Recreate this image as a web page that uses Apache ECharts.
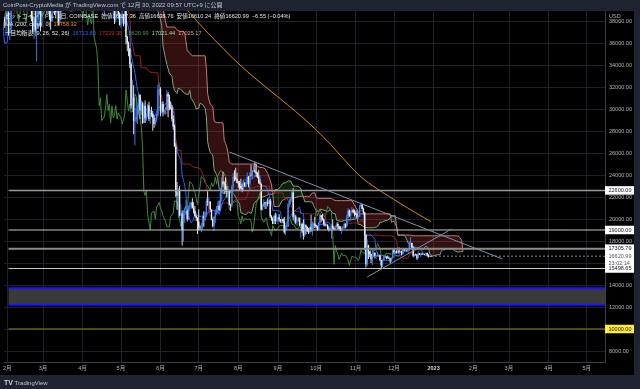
<!DOCTYPE html>
<html><head><meta charset="utf-8">
<script src="https://cdn.jsdelivr.net/npm/echarts@6/dist/echarts.min.js"></script>
<style>html,body{margin:0;padding:0;background:#1f2230;}#c{width:640px;height:389px;}</style>
</head><body><div id="c"></div><script>
// ---------- DATA (BTC/USD daily, Coinbase, 2022-01-01 .. 2022-12-30) ----------
const startDate = '2022-01-01';
const firstOpen = 46210;
const lastOpen = 16627.36;
const closes = [
47740,47300,46430,45830,43430,43080,41560,41740,41860,41830,42740,43920,42590,43100,43180,43110,42250,42370,41680,40700,36470,35070,36280,36680,36960,36830,37180,37720,38180,37920,38480,
38740,36900,37320,41570,41410,42410,43840,44080,44370,43530,42400,42200,42060,42550,44560,43890,40550,40000,40100,38400,37030,38250,37250,38330,39220,39120,37700,43190,
44420,43920,42450,39150,39400,38420,37990,38730,41940,39440,38800,38900,37800,39670,39280,41110,40920,41760,42200,41260,41000,42360,42890,43960,44350,44500,46820,47130,47460,47060,45540,
46280,45810,46400,46580,45500,43170,43440,42290,42780,42200,39520,40080,41150,39940,40550,40380,39680,40800,41500,41370,40480,39700,39450,39450,40430,38120,39240,39740,38600,37650,
38470,38530,37750,39690,36550,36020,35500,34060,30300,31020,28940,29050,29280,30100,31300,29860,30420,28720,30290,29200,29430,30320,29100,29650,29540,29200,28630,29030,29450,31730,31790,
29800,30450,29700,29860,29900,31370,31130,30200,30110,29090,28420,26570,22490,22140,22580,20380,20470,19000,20570,20570,20710,19990,21100,21230,21500,21030,20730,20280,20100,19780,
19300,19250,19300,20230,20190,20550,21640,21590,21590,20860,19970,19330,20210,20580,20830,21200,20790,22430,23400,23230,23160,22680,22450,22580,21300,21250,22950,23850,23780,23640,23300,
23270,22990,22820,22610,23310,22960,23180,23810,23160,23950,23940,24400,24440,24300,24100,23860,23340,23210,20830,21140,21520,21400,21530,21370,21680,20240,20040,19550,20290,19800,20050,
20130,19950,19830,20000,19800,18790,19290,19320,21360,21650,21830,22400,20170,20230,19700,19800,20110,19420,19540,18880,18490,19410,19300,18930,18800,19220,19080,19410,19590,19420,
19310,19060,19630,20340,20160,19960,19530,19420,19450,19130,19060,19150,19380,19180,19070,19260,19550,19330,19120,19040,19170,19200,19570,19330,20090,20770,20290,20600,20810,20630,20490,
20480,20150,20210,21150,21300,20900,20590,18540,15880,17590,17070,16810,16330,16620,16900,16660,16690,16700,16700,16280,15780,16230,16600,16600,16520,16460,16440,16220,16450,17170,
16980,17090,16890,17110,16970,17090,16840,17230,17130,17130,17100,17210,17780,17810,17360,16630,16780,16740,16440,16900,16820,16830,16780,16840,16830,16920,16700,16550,16627.36,16620.99
];
const highs = [
47940,47990,47570,47500,47070,43750,43150,42300,42800,42250,43100,44350,44300,43450,43800,43480,43200,42700,42620,43500,41100,36830,36500,37550,37540,38940,37240,37980,38700,38370,38740,
39260,38870,37390,41740,41950,42670,44500,45490,44790,45820,43920,43040,42750,42880,44760,44600,44180,40990,40460,40160,39470,38440,39280,39140,39730,40280,39870,43760,
44960,45400,44080,42500,39620,39650,39480,39380,42580,41940,40250,39480,39310,39910,39860,41700,41420,42300,42380,42300,41750,43350,43000,44200,45080,44790,46920,48200,48090,47700,47600,
46690,47200,47420,46880,47200,45520,43900,43950,42800,43420,42400,40680,41550,41500,40710,40640,40600,41080,41750,42190,42980,40800,39990,39930,40620,40790,39470,40370,39980,38790,
38660,39170,38650,39920,39860,36650,36140,35500,34250,32640,32170,30100,30980,30300,31430,31300,30790,30650,30540,30770,29600,30460,30650,29820,30200,29850,29380,29230,29550,32200,32390,
31970,30650,30680,29950,30150,31760,31550,31300,30680,30370,29440,28560,26880,23360,22800,22980,21350,20770,20800,21050,21720,20870,21200,21520,21580,21880,21520,21180,20420,20170,
20880,19420,19660,20330,20710,20680,21840,22530,21900,21600,20860,20040,20270,20880,21200,21580,21680,22770,23800,24280,23440,23770,22980,23000,22660,21380,23080,24200,24440,24670,24210,
23480,23460,23650,23210,23450,23350,23390,24230,23910,24220,24920,24460,24890,25210,25050,24250,24430,23600,23210,21380,21790,21540,21650,21860,22000,21820,20350,20150,20400,20560,20480,
20200,20440,20010,20000,20050,20180,19460,19460,21480,21790,21860,22490,22800,20540,20380,19900,20190,20110,19670,19650,19950,19500,19490,19310,19180,19310,20380,19790,19640,20180,
19480,19390,19710,20470,20360,20450,20060,19620,19560,19530,19270,19230,19520,19950,19230,19420,19680,19700,19350,19340,19250,19250,19690,19600,20400,21000,20860,20750,21080,20930,20840,
20690,20790,20390,21300,21480,21360,21050,20670,18587,18150,17650,17050,16870,17180,17100,16980,16740,17000,16800,16740,16290,16290,16700,16800,16600,16690,16600,16480,16530,17240,
17320,17110,17160,17200,17420,17110,17140,17300,17350,17230,17270,17240,18000,18387,17850,17530,16800,16860,16820,17060,16910,16870,16950,16880,16850,16940,16957,16790,16660,16638.76
];
const lows = [
46210,46650,45700,45520,42500,42450,40610,40500,41220,39650,41270,42460,42300,41750,42620,42600,41550,41260,41150,40600,35500,34020,34610,32950,35720,36260,35510,36200,37330,37380,36650,
38050,36650,36260,36960,40990,41130,41920,42690,43200,43220,42030,41780,41890,41570,42440,43330,40110,39450,39650,38000,36810,36340,37040,34330,38040,38600,37050,37460,
42870,43350,41850,38600,38630,38100,37200,37900,38680,38550,38250,38700,37600,37600,38120,38880,40530,40150,41520,40930,40500,40880,41810,42570,43650,44090,44450,46650,46950,46560,45210,
44260,45620,45530,45150,45370,43120,42730,42120,42130,41900,39220,39240,39560,39560,39640,40020,39550,38560,40580,40880,39780,39190,39310,38920,38230,37730,37870,38880,38200,37600,
37400,38060,37520,37680,35860,35260,34790,33720,30040,29720,27700,26700,28750,28630,29500,29100,29460,28650,28700,28730,28950,29240,28900,28670,29300,28030,28290,28510,28820,29300,31220,
29330,29600,29340,29500,29500,29900,29250,29880,29960,28860,28110,26560,22000,20850,20100,20250,20240,17600,17960,19650,20360,19770,19900,20750,20920,20960,20500,20200,19850,18630,
18980,19000,18800,19050,19290,19790,20250,21190,21330,20670,19880,19250,18920,19620,20390,20480,20760,20770,21580,22930,22350,22470,21960,22300,21250,20720,21050,22590,23430,23500,23240,
22850,22670,22680,22440,22590,22930,22870,23150,22870,22680,23880,23620,24300,24200,23790,23700,23200,23120,20800,20780,21100,20900,20900,21140,21340,20120,19830,19530,19550,19540,19800,
19560,19760,19650,19600,19640,18650,18540,19010,19300,21060,21370,21570,19870,19620,19530,19330,19750,19380,18230,18750,18130,18360,18600,18820,18630,18690,18850,18480,19110,19180,
19160,18940,19000,19500,19760,19860,19330,19330,19330,19030,18860,18970,18200,19080,18970,19070,19170,19100,19070,18900,18660,19120,19080,19160,19250,20060,20210,20020,20560,20510,20230,
20370,20050,20040,20180,21080,20870,20400,17170,15590,15760,16360,16550,16000,15820,16540,16420,16400,16560,16550,16170,15463.34,15630,16170,16470,16350,16400,16400,15990,16110,16440,
16860,16790,16860,16880,16870,16910,16690,16740,17080,17090,17070,16880,17090,17660,17280,16530,16590,16690,16271.76,16400,16730,16560,16750,16780,16730,16780,16600,16470.6,16540,16610.24
];
// MA(200)
const ma200Dates = ['2022-06-22','2022-07-06','2022-08-04','2022-09-20','2022-10-09','2022-11-08','2022-12-30'];
const ma200Values = [39000, 37180, 33820, 29270, 27180, 23550, 19758.32];
// axes
const monthTicks = ['2022-02-01','2022-03-01','2022-04-01','2022-05-01','2022-06-01','2022-07-01','2022-08-01','2022-09-01','2022-10-01','2022-11-01','2022-12-01','2023-01-01','2023-02-01','2023-03-01','2023-04-01','2023-05-01'];
const priceTicks = [8000,10000,12000,14000,16000,18000,20000,22000,24000,26000,28000,30000,32000,34000,36000,38000];
// drawings
const levelStartDate = '2022-02-02';
const levels = [22600, 19000, 17305.79, 15498.65];
const yellowLevel = 10000;
const zone = [12200, 13700];
const lastPrice = 16620.99;
const countdown = '23:02:14';
const trendDown = [['2022-07-25', 26090], ['2023-02-24', 16364]];
const trendUp = [['2022-11-10', 14727], ['2023-01-15', 19091]];

// ---------- BUILD ----------
const DAY = 86400000;
const T = s => Date.parse(s + 'T00:00:00Z');
const t0 = T(startDate);
const N = closes.length;
const times = closes.map((_, i) => t0 + i * DAY);
const opens = closes.map((_, i) => i === 0 ? firstOpen : (i === N - 1 ? lastOpen : closes[i - 1]));
const xMin = Date.UTC(2022, 0, 29, 12);
const xMax = xMin + 470.8 * DAY;

function mid(i, n) {
  if (i < n - 1) return null;
  let h = -Infinity, l = Infinity;
  for (let k = i - n + 1; k <= i; k++) { h = Math.max(h, highs[k]); l = Math.min(l, lows[k]); }
  return (h + l) / 2;
}
const SHIFT = 25;
const conv = [], base = [], spanA = [], spanB = [], lagSpan = [], aVals = [], bVals = [];
for (let i = 0; i < N; i++) {
  const c9 = mid(i, 9), c26 = mid(i, 26), c52 = mid(i, 52);
  if (c9 != null) conv.push([times[i], c9]);
  if (c26 != null) base.push([times[i], c26]);
  const a = (c9 != null && c26 != null) ? (c9 + c26) / 2 : null;
  aVals.push(a); bVals.push(c52);
  if (a != null) spanA.push([times[i] + SHIFT * DAY, a]);
  if (c52 != null) spanB.push([times[i] + SHIFT * DAY, c52]);
  lagSpan.push([times[i] - SHIFT * DAY, closes[i]]);
}
// cloud runs
const runs = []; let cur = null;
for (let i = 0; i < N; i++) {
  const a = aVals[i], b = bVals[i];
  if (a == null || b == null) continue;
  const t = times[i] + SHIFT * DAY, up = a >= b;
  if (!cur) { cur = { up, pts: [[t, a, b]] }; continue; }
  if (up !== cur.up) {
    const p = cur.pts[cur.pts.length - 1];
    const d0 = p[1] - p[2], d1 = a - b, f = d0 / (d0 - d1);
    const tm = p[0] + (t - p[0]) * f, vm = p[1] + (a - p[1]) * f;
    cur.pts.push([tm, vm, vm]); runs.push(cur);
    cur = { up, pts: [[tm, vm, vm], [t, a, b]] };
  } else cur.pts.push([t, a, b]);
}
if (cur) runs.push(cur);

const candleData = closes.map((c, i) => [times[i], opens[i], c, lows[i], highs[i]]);
const UP = '#4385f5', DOWN = '#f2f2f2';
const FONT = '"Liberation Sans","Noto Sans CJK JP",sans-serif';

function rectOf(cs) { return { x: cs.x, y: cs.y, width: cs.width, height: cs.height }; }

const hl = (v, color, width, type, from) => ({
  type: 'line', data: [[from || T(levelStartDate), v], [xMax, v]], symbol: 'none', silent: true,
  lineStyle: { color, width, type: type || 'solid' }, z: 6, animation: false
});

const chart = echarts.init(document.getElementById('c'), null, { renderer: 'canvas', width: 640, height: 389 });
const monthVals = monthTicks.map(T);
const option = {
  animation: false,
  backgroundColor: '#000000',
  grid: { left: 0, right: 35, top: 11, bottom: 27 },
  xAxis: {
    type: 'value', min: xMin, max: xMax,
    axisLine: { show: true, lineStyle: { color: '#3a3e4a' } },
    axisTick: { show: false, customValues: monthVals },
    splitLine: { show: true, lineStyle: { color: '#1e212a', width: 1 } },
    axisLabel: {
      customValues: monthVals, fontSize: 5.5, color: '#b2b5be', margin: 4, fontFamily: FONT,
      formatter: v => { const d = new Date(v); return d.getUTCMonth() === 0 ? '{b|' + d.getUTCFullYear() + '}' : (d.getUTCMonth() + 1) + '月'; },
      rich: { b: { fontWeight: 'bold', fontSize: 5.5, color: '#d1d4dc', fontFamily: FONT } }
    }
  },
  yAxis: {
    type: 'value', position: 'right', min: 7000, max: 38909,
    axisLine: { show: true, lineStyle: { color: '#3a3e4a' } },
    axisTick: { show: false, customValues: priceTicks },
    splitLine: { show: true, lineStyle: { color: '#1e212a', width: 1 } },
    axisLabel: { customValues: priceTicks, fontSize: 5.5, color: '#b2b5be', margin: 4, fontFamily: FONT, formatter: v => v.toFixed(2) }
  },
  series: [
    {
      type: 'custom', name: 'cloud', z: 1, silent: true,
      data: runs.map((r, k) => [r.pts[0][0], r.pts[0][1], k]),
      encode: { x: 0, y: 1 },
      renderItem: (params, api) => {
        const r = runs[api.value(2)];
        const top = r.pts.map(p => api.coord([p[0], p[1]]));
        const bot = r.pts.slice().reverse().map(p => api.coord([p[0], p[2]]));
        const pts = echarts.graphic.clipPointsByRect(top.concat(bot), rectOf(params.coordSys));
        return { type: 'polygon', shape: { points: pts }, style: { fill: r.up ? 'rgba(67,160,71,0.2)' : 'rgba(255,82,82,0.2)' } };
      }
    },
    { type: 'line', name: 'spanA', data: spanA, symbol: 'none', lineStyle: { color: '#7fa57a', width: 1 }, z: 2, silent: true },
    { type: 'line', name: 'spanB', data: spanB, symbol: 'none', lineStyle: { color: '#c87878', width: 1 }, z: 2, silent: true },
    { type: 'line', name: 'lag', data: lagSpan, symbol: 'none', lineStyle: { color: '#3d8b3d', width: 1 }, z: 2, silent: true },
    { type: 'line', name: 'base', data: base, symbol: 'none', lineStyle: { color: '#9c1f1f', width: 1 }, z: 2, silent: true },
    { type: 'line', name: 'conv', data: conv, symbol: 'none', lineStyle: { color: '#2962ff', width: 1 }, z: 2, silent: true },
    { type: 'line', name: 'ma200', data: ma200Dates.map((d, i) => [T(d), ma200Values[i]]), symbol: 'none', smooth: 0.3, lineStyle: { color: '#d98a12', width: 1 }, z: 2, silent: true },
    {
      type: 'custom', name: 'candles', z: 3, silent: true,
      data: candleData, encode: { x: 0, y: [1, 2, 3, 4] },
      renderItem: (params, api) => {
        const t = api.value(0), o = api.value(1), c = api.value(2), l = api.value(3), h = api.value(4);
        const x = api.coord([t, o])[0];
        const yo = api.coord([t, o])[1], yc = api.coord([t, c])[1];
        const yl = api.coord([t, Math.min(l, o, c)])[1], yh = api.coord([t, Math.max(h, o, c)])[1];
        const cr = rectOf(params.coordSys);
        const col = c >= o ? UP : DOWN;
        const wick = echarts.graphic.clipRectByRect({ x: x - 0.45, y: yh, width: 0.9, height: Math.max(yl - yh, 0.5) }, cr);
        const body = echarts.graphic.clipRectByRect({ x: x - 0.7, y: Math.min(yo, yc), width: 1.4, height: Math.max(Math.abs(yo - yc), 0.8) }, cr);
        const ch = [];
        if (wick) ch.push({ type: 'rect', shape: wick, style: { fill: col } });
        if (body) ch.push({ type: 'rect', shape: body, style: { fill: col } });
        return { type: 'group', children: ch };
      }
    },
    {
      type: 'line', name: 'zoneLow', data: [[T(levelStartDate), zone[0]], [xMax, zone[0]]], symbol: 'none', silent: true,
      lineStyle: { color: '#1515ff', width: 2 }, z: 5,
      markArea: { silent: true, itemStyle: { color: '#3a3a3a' }, data: [[{ coord: [T(levelStartDate), zone[0]] }, { coord: [xMax, zone[1]] }]] }
    },
    hl(zone[1], '#1515ff', 2),
    hl(yellowLevel, '#8f8420', 1),
    hl(levels[0], '#9a9a9a', 1.5),
    hl(levels[1], '#c8c8c8', 1),
    hl(levels[2], '#8c8c8c', 2),
    hl(levels[3], '#c8c8c8', 1),
    hl(lastPrice, '#8a8d96', 1, [2, 2], times[N - 1]),
    { type: 'line', name: 'trendDown', data: trendDown.map(p => [T(p[0]), p[1]]), symbol: 'none', lineStyle: { color: '#7d92ab', width: 1 }, z: 6, silent: true },
    { type: 'line', name: 'trendUp', data: trendUp.map(p => [T(p[0]), p[1]]), symbol: 'none', lineStyle: { color: '#7d92ab', width: 1 }, z: 6, silent: true }
  ]
};
chart.setOption(option);

// ---------- overlay: price boxes, legend, header, footer ----------
const boxes = [
  { v: levels[0], text: levels[0].toFixed(2), bg: '#ffffff', fg: '#131722' },
  { v: levels[1], text: levels[1].toFixed(2), bg: '#ffffff', fg: '#131722' },
  { v: levels[2], text: levels[2].toFixed(2), bg: '#ffffff', fg: '#131722' },
  { v: lastPrice, text: lastPrice.toFixed(2) + '\n' + countdown, bg: '#ffffff', fg: '#50535e', two: true },
  { v: levels[3], text: levels[3].toFixed(2), bg: '#ffffff', fg: '#131722' },
  { v: yellowLevel, text: yellowLevel.toFixed(2), bg: '#ffeb3b', fg: '#131722' }
];
const axisX = chart.convertToPixel({ xAxisIndex: 0 }, xMax);
const g = [];
boxes.forEach(b => {
  const y = chart.convertToPixel({ yAxisIndex: 0 }, b.v);
  const h = b.two ? 15 : 8.5;
  const y0 = y - 4.25;
  g.push({ type: 'rect', z: 100, shape: { x: axisX, y: y0, width: 29, height: h }, style: { fill: b.bg } });
  g.push({ type: 'text', z: 101, x: axisX + 3.5, y: y0 + 1.2, style: { text: b.text, fill: b.fg, font: '5.5px ' + FONT, lineHeight: 6.6, textVerticalAlign: 'top' } });
});
g.push({ type: 'rect', z: 90, shape: { x: 0, y: 0, width: 640, height: 11 }, style: { fill: '#1f2230' } });
g.push({ type: 'rect', z: 90, shape: { x: 634, y: 0, width: 6, height: 389 }, style: { fill: '#1f2230' } });
g.push({ type: 'rect', z: 90, shape: { x: 0, y: 375, width: 640, height: 14 }, style: { fill: '#1f2230' } });
g.push({ type: 'text', z: 91, x: 3, y: 5.5, style: { text: 'CoinPost-CryptoMedia が TradingView.com で 12月 30, 2022 09:57 UTC+9 に公開', fill: '#c3c6ce', font: '6px ' + FONT, textVerticalAlign: 'middle' } });
g.push({ type: 'rect', z: 90, shape: { x: 606, y: 11, width: 28, height: 8 }, style: { fill: '#000000' } });
g.push({ type: 'text', z: 91, x: 609, y: 16, style: { text: 'USD', fill: '#b2b5be', font: '5.5px ' + FONT, textVerticalAlign: 'middle' } });
g.push({ type: 'text', z: 91, x: 4, y: 383, style: { text: '{l|TV} TradingView', fill: '#c3c6ce', font: '6px ' + FONT, textVerticalAlign: 'middle', rich: { l: { fontWeight: 'bold', fontSize: 7, fill: '#d1d4dc' } } } });
const LG = '#e6e8ee', FS = 5.6;
g.push({ type: 'text', z: 80, x: 5, y: 16, style: { text: 'ビットコイン / ドル, 1日, COINBASE  始値16627.36  高値16638.76  安値16610.24  終値16620.99  −6.55 (−0.04%)', fill: LG, font: FS + 'px ' + FONT, textVerticalAlign: 'middle' } });
g.push({ type: 'text', z: 80, x: 5, y: 24.5, style: { text: 'MA (200, close, 0)  {o|19758.32}', fill: LG, font: FS + 'px ' + FONT, textVerticalAlign: 'middle', rich: { o: { fill: '#ff9800', fontSize: FS } } } });
g.push({ type: 'text', z: 80, x: 5, y: 33, style: { text: '一目均衡表 (9, 26, 52, 26)  {b|16713.80}  {r|17329.38}  {g|16620.99}  {a|17021.44}  {s|17025.17}', fill: LG, font: FS + 'px ' + FONT, textVerticalAlign: 'middle',
  rich: { b: { fill: '#2962ff', fontSize: FS }, r: { fill: '#c62828', fontSize: FS }, g: { fill: '#43a047', fontSize: FS }, a: { fill: '#a5d6a7', fontSize: FS }, s: { fill: '#ef9a9a', fontSize: FS } } } });
chart.setOption({ graphic: { elements: g } });
</script></body></html>
